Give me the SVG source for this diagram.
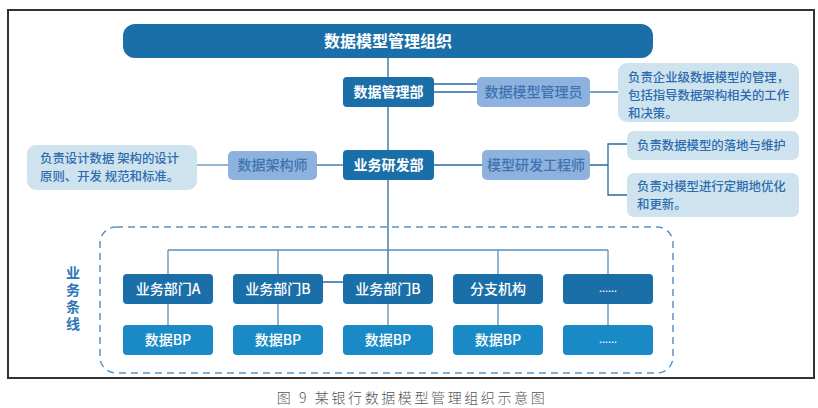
<svg xmlns="http://www.w3.org/2000/svg" width="818" height="408" viewBox="0 0 818 408">
<style>
text{font-family:"Noto Sans CJK SC","Noto Sans",sans-serif;}
.dark{fill:#1b6fa8;}
.bp{fill:#1a8ac7;}
.role{fill:#8db2de;}
.desc{fill:#cfe3ee;}
.wt{fill:#ffffff;font-size:14px;font-weight:700;text-anchor:middle;}
.rt{fill:#3f73b0;font-size:14px;font-weight:500;text-anchor:middle;}
.dt{fill:#2d6cae;font-size:12.4px;font-weight:500;}
.ln{stroke:#2a6a9e;stroke-width:1.3;fill:none;}
.ln2{stroke:#5a8fbd;stroke-width:1.3;fill:none;}
.vl{fill:#2e75b6;font-size:14px;font-weight:700;writing-mode:vertical-rl;letter-spacing:3px;}
</style>
<rect x="0" y="0" width="818" height="408" fill="#ffffff"/>
<rect x="8" y="10" width="806" height="368" fill="none" stroke="#333333" stroke-width="2"/>

<g id="connectors">
  <path class="ln" d="M388 58V250"/>
  <path class="ln" d="M434 92H477"/>
  <path class="ln" d="M410 84H580" stroke-width="1"/>
  <path class="ln" d="M590 92H618"/>
  <path class="ln2" d="M197 165H228"/>
  <path class="ln" d="M317 165H343"/>
  <path class="ln" d="M434 165H482"/>
  <path class="ln" d="M590 165H608M627 144H608V195H627"/>
  <path class="ln2" d="M168 250H608"/>
  <path class="ln2" d="M168 250V274M278 250V274M498 250V274M608 250V274"/>
  <path class="ln" d="M388 250V282"/>
  <path class="ln" d="M248 282H388" stroke-width="1"/>
  <path class="ln2" d="M168 304V325M278 304V325M388 304V325M498 304V325M608 304V325"/>
</g>

<rect id="group-frame" x="100" y="227" width="573" height="146" rx="16" fill="none" stroke="#5b93c4" stroke-width="1.5" stroke-dasharray="7 5"/>

<g id="title">
  <rect class="dark" x="123" y="24" width="530" height="34" rx="12"/>
  <text class="wt" x="388" y="47" style="font-size:16px">数据模型管理组织</text>
</g>

<g id="dept-data">
  <rect class="dark" x="343" y="77" width="91" height="30" rx="4"/>
  <text class="wt" x="388.5" y="97">数据管理部</text>
</g>
<g id="role-model-admin">
  <rect class="role" x="477" y="77" width="113" height="30" rx="5"/>
  <text class="rt" x="533.5" y="97">数据模型管理员</text>
</g>
<g id="desc-admin">
  <rect class="desc" x="618" y="63" width="181" height="59" rx="9"/>
  <text class="dt" x="628" y="82">负责企业级数据模型的管理，</text>
  <text class="dt" x="628" y="100">包括指导数据架构相关的工作</text>
  <text class="dt" x="628" y="118">和决策。</text>
</g>

<g id="dept-biz">
  <rect class="dark" x="343" y="150" width="91" height="30" rx="4"/>
  <text class="wt" x="388.5" y="170">业务研发部</text>
</g>
<g id="role-architect">
  <rect class="role" x="228" y="151" width="89" height="29" rx="5"/>
  <text class="rt" x="272.5" y="170">数据架构师</text>
</g>
<g id="desc-architect">
  <rect class="desc" x="27" y="145" width="170" height="45" rx="9"/>
  <text class="dt" x="40" y="163">负责设计数据 架构的设计</text>
  <text class="dt" x="40" y="181">原则、开发 规范和标准。</text>
</g>
<g id="role-engineer">
  <rect class="role" x="482" y="150" width="108" height="30" rx="5"/>
  <text class="rt" x="536" y="170">模型研发工程师</text>
</g>
<g id="desc-engineer-1">
  <rect class="desc" x="627" y="131" width="172" height="29" rx="7"/>
  <text class="dt" x="637" y="150">负责数据模型的落地与维护</text>
</g>
<g id="desc-engineer-2">
  <rect class="desc" x="627" y="173" width="172" height="44" rx="7"/>
  <text class="dt" x="637" y="191">负责对模型进行定期地优化</text>
  <text class="dt" x="637" y="209">和更新。</text>
</g>

<g id="label-line">
  <text class="vl" x="73" y="266">业务条线</text>
</g>

<g id="unit-a">
  <rect class="dark" x="123" y="274" width="90" height="30" rx="4"/>
  <text class="wt" x="168" y="294" style="font-weight:500">业务部门A</text>
</g>
<g id="unit-b1">
  <rect class="dark" x="233" y="274" width="90" height="30" rx="4"/>
  <text class="wt" x="278" y="294" style="font-weight:500">业务部门B</text>
</g>
<g id="unit-b2">
  <rect class="dark" x="343" y="274" width="90" height="30" rx="4"/>
  <text class="wt" x="388" y="294" style="font-weight:500">业务部门B</text>
</g>
<g id="unit-branch">
  <rect class="dark" x="453" y="274" width="90" height="30" rx="4"/>
  <text class="wt" x="498" y="294" style="font-weight:500">分支机构</text>
</g>
<g id="unit-more">
  <rect class="dark" x="563" y="274" width="90" height="30" rx="4"/>
  <text class="wt" x="608" y="292" style="font-size:10px;font-weight:500">......</text>
</g>

<g id="bp-a">
  <rect class="bp" x="123" y="325" width="90" height="30" rx="4"/>
  <text class="wt" x="168" y="345" style="font-weight:500">数据BP</text>
</g>
<g id="bp-b1">
  <rect class="bp" x="233" y="325" width="90" height="30" rx="4"/>
  <text class="wt" x="278" y="345" style="font-weight:500">数据BP</text>
</g>
<g id="bp-b2">
  <rect class="bp" x="343" y="325" width="90" height="30" rx="4"/>
  <text class="wt" x="388" y="345" style="font-weight:500">数据BP</text>
</g>
<g id="bp-branch">
  <rect class="bp" x="453" y="325" width="90" height="30" rx="4"/>
  <text class="wt" x="498" y="345" style="font-weight:500">数据BP</text>
</g>
<g id="bp-more">
  <rect class="bp" x="563" y="325" width="90" height="30" rx="4"/>
  <text class="wt" x="608" y="343" style="font-size:10px;font-weight:500">......</text>
</g>

<text x="412" y="403" fill="#555555" text-anchor="middle" style="font-size:14px;font-weight:300;letter-spacing:2.6px">图 9 某银行数据模型管理组织示意图</text>
</svg>
